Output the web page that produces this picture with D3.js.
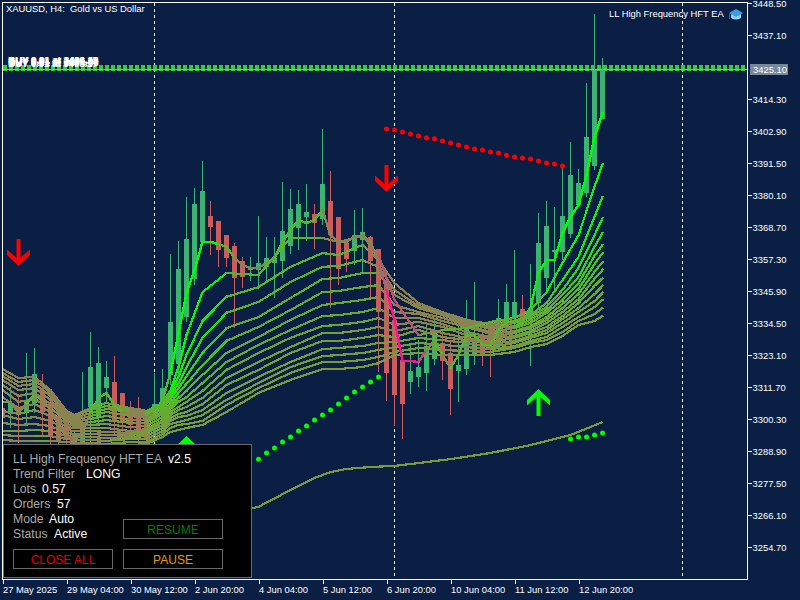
<!DOCTYPE html>
<html><head><meta charset="utf-8">
<script src="https://cdn.jsdelivr.net/npm/d3@7"></script>
<style>
html,body{margin:0;padding:0;background:#0b1f45;overflow:hidden}
svg{display:block}
text{font-family:"Liberation Sans",sans-serif}
</style></head><body><svg id="c" width="800" height="600"></svg>
<script>
// ---------- tick labels ----------
const priceTicks=[3448.5,3437.1,3414.3,3402.9,3391.5,3380.1,3368.7,3357.3,3345.9,3334.5,3323.1,3311.7,3300.3,3288.9,3277.5,3266.1,3254.7];
const timeTickBars=[0,8,16,24,32,40,48,56,64,72];
const timeTickLabels=["27 May 2025","29 May 04:00","30 May 12:00","2 Jun 20:00","4 Jun 04:00","5 Jun 12:00","6 Jun 20:00","10 Jun 04:00","11 Jun 12:00","12 Jun 20:00"];
const separatorBars=[19,49,85];
// ---------- candles, one entry per 4-hour bar ----------
const opens=[3304.2,3302.1,3304.2,3302.8,3306.0,3310.6,3306.4,3300.7,3298.2,3291.0,3291.0,3304.6,3300.7,3311.3,3313.5,3309.6,3302.8,3304.2,3299.9,3300.7,3301.7,3316.0,3319.9,3336.6,3350.2,3363.4,3372.6,3370.8,3365.8,3361.9,3356.6,3353.4,3353.4,3354.5,3355.9,3356.6,3361.9,3368.3,3372.3,3373.3,3371.6,3378.0,3372.3,3363.0,3360.2,3364.1,3365.1,3360.9,3349.8,3335.6,3321.3,3313.5,3315.3,3316.7,3321.7,3327.4,3323.8,3317.4,3318.1,3323.1,3329.2,3333.8,3326.7,3333.1,3336.3,3339.5,3336.6,3341.6,3350.5,3359.8,3359.8,3366.2,3376.5,3380.8,3390.4,3407.2];
const highs=[3307.1,3311.7,3309.2,3323.8,3325.6,3316.3,3310.6,3303.5,3299.9,3296.4,3317.0,3331.3,3325.9,3321.0,3322.7,3309.6,3306.7,3308.1,3301.7,3316.7,3318.1,3359.1,3363.7,3379.4,3382.6,3392.2,3378.0,3370.8,3365.8,3363.0,3358.0,3358.0,3372.6,3365.1,3365.1,3384.7,3382.2,3381.9,3384.0,3376.9,3403.6,3388.7,3372.3,3364.1,3374.8,3375.5,3365.5,3360.9,3349.8,3335.6,3321.3,3327.4,3328.4,3334.9,3335.6,3332.0,3328.4,3334.5,3342.7,3349.1,3332.0,3335.2,3343.0,3348.4,3360.5,3344.5,3355.5,3373.7,3378.0,3375.8,3390.1,3399.0,3389.4,3420.0,3444.6,3428.9];
const lows=[3296.4,3297.1,3291.8,3298.9,3302.4,3293.9,3291.0,3288.0,3287.0,3286.0,3288.0,3291.0,3298.2,3306.0,3294.6,3295.7,3292.8,3288.0,3291.0,3294.6,3298.2,3312.4,3316.0,3334.9,3348.0,3362.3,3358.7,3354.5,3354.5,3332.7,3347.0,3349.5,3346.6,3348.7,3343.4,3350.5,3359.1,3360.5,3363.7,3360.9,3369.4,3339.8,3348.0,3352.7,3355.2,3352.7,3343.4,3317.0,3306.7,3297.8,3293.2,3309.2,3311.7,3310.3,3319.5,3314.2,3301.7,3306.4,3316.0,3319.5,3319.2,3315.3,3324.9,3330.2,3333.8,3328.4,3319.2,3339.1,3346.3,3345.2,3356.9,3364.8,3376.5,3379.4,3389.0,3407.2];
const closes=[3300.7,3306.0,3302.1,3307.1,3316.3,3302.8,3293.9,3292.8,3293.5,3294.6,3298.2,3318.8,3320.2,3315.3,3299.9,3298.9,3298.2,3292.8,3292.8,3305.6,3311.3,3334.9,3353.7,3364.4,3376.9,3381.5,3368.7,3360.5,3357.7,3350.5,3350.9,3354.5,3355.9,3357.7,3357.7,3367.3,3375.1,3376.9,3374.0,3370.1,3384.0,3365.8,3353.7,3357.3,3365.8,3366.9,3356.6,3338.4,3316.7,3308.8,3305.6,3317.4,3318.8,3326.3,3331.6,3321.0,3311.0,3319.5,3334.5,3328.4,3323.1,3326.7,3336.3,3342.0,3342.0,3335.6,3339.8,3363.0,3369.0,3360.5,3372.6,3387.2,3384.4,3400.8,3424.6,3424.6];
// ---------- fastest moving average, one value per bar ----------
const fastMA=[3306.4,3306.4,3302.4,3306.0,3308.8,3307.1,3303.5,3298.2,3294.2,3292.8,3295.7,3302.8,3307.8,3309.6,3305.3,3302.8,3302.1,3301.7,3300.7,3302.8,3307.1,3316.7,3330.9,3345.2,3353.4,3363.4,3363.4,3362.6,3361.6,3357.7,3355.2,3354.1,3354.1,3355.9,3357.7,3363.4,3367.6,3371.2,3370.1,3371.2,3374.8,3365.8,3363.4,3363.4,3365.1,3365.8,3363.4,3356.2,3346.3,3335.6,3321.0,3321.0,3320.6,3324.9,3328.4,3323.1,3318.5,3323.1,3330.2,3330.2,3326.7,3326.7,3332.0,3334.9,3334.9,3334.5,3339.8,3352.3,3356.9,3356.9,3366.6,3372.3,3376.5,3387.2,3400.8,3409.3];
// ---------- slower moving averages, read at these bars ----------
const ribbonBars=[0,2,4,6,8,9,11,13,16,18,20,21,22,23,25,28,32,36,40,42,45,47,49,52,55,58,61,64,66,68,70,72,74,75];
const ribbonValuesAtBar=[
[3318.1,3316.7,3315.6,3314.2,3312.4,3310.6,3308.1,3303.2,3301.7,3298.9,3296.0,3294.6,3292.8,3290.7],
[3314.9,3313.5,3312.1,3310.6,3308.5,3306.4,3304.2,3302.1,3300.3,3298.2,3296.0,3294.2,3292.5,3290.7],
[3315.3,3314.2,3312.8,3311.3,3309.6,3307.4,3305.6,3303.5,3301.0,3298.5,3296.4,3294.2,3292.5,3290.7],
[3310.6,3309.6,3308.5,3307.1,3305.6,3304.2,3302.8,3301.4,3299.6,3297.8,3296.0,3294.2,3292.5,3290.7],
[3303.2,3302.4,3301.7,3301.0,3300.3,3299.6,3298.5,3297.4,3296.4,3295.3,3294.2,3293.2,3292.1,3290.7],
[3301.7,3301.4,3300.7,3299.9,3299.2,3298.5,3297.8,3297.1,3296.0,3295.0,3293.9,3292.8,3291.8,3290.7],
[3304.2,3303.5,3302.4,3301.4,3300.3,3299.2,3298.2,3297.1,3296.0,3295.0,3293.9,3292.8,3291.8,3290.7],
[3306.0,3304.9,3303.9,3302.8,3301.4,3299.9,3298.5,3297.1,3295.7,3294.6,3293.5,3292.5,3291.4,3290.7],
[3304.2,3303.5,3302.8,3301.4,3299.9,3298.9,3297.4,3296.0,3295.3,3294.6,3293.9,3293.2,3292.1,3291.0],
[3303.2,3302.4,3301.7,3300.7,3299.9,3298.9,3297.8,3296.7,3296.0,3295.3,3294.2,3293.2,3292.1,3291.4],
[3306.0,3305.3,3304.6,3303.9,3302.8,3302.1,3301.0,3299.9,3299.2,3298.2,3297.1,3296.0,3295.0,3293.9],
[3310.6,3309.6,3308.5,3307.4,3306.0,3304.9,3303.9,3302.8,3301.7,3300.7,3299.6,3298.5,3297.1,3295.7],
[3318.8,3315.3,3313.1,3311.3,3309.6,3307.8,3306.4,3304.6,3303.5,3302.1,3301.0,3299.2,3298.2,3296.4],
[3330.2,3323.1,3318.8,3315.6,3312.8,3310.3,3308.1,3306.4,3304.6,3302.8,3301.4,3299.9,3298.5,3297.1],
[3345.5,3335.2,3329.2,3323.8,3319.5,3316.0,3313.1,3310.3,3307.8,3305.6,3303.5,3301.7,3299.6,3298.2],
[3352.3,3343.8,3338.1,3332.7,3328.1,3323.8,3320.6,3317.8,3314.9,3312.4,3309.6,3307.1,3305.3,3302.8],
[3351.6,3347.3,3342.0,3336.6,3333.1,3329.5,3326.7,3323.8,3320.6,3317.8,3315.3,3313.1,3311.3,3309.6],
[3364.8,3354.5,3349.1,3343.4,3339.1,3335.6,3332.0,3329.2,3325.9,3323.8,3320.6,3318.8,3316.7,3314.2],
[3364.8,3359.4,3354.5,3350.2,3345.5,3340.9,3337.0,3333.4,3330.9,3328.1,3325.2,3322.7,3320.6,3318.1],
[3363.4,3358.7,3354.8,3350.5,3345.9,3341.6,3337.3,3333.8,3330.9,3328.1,3325.6,3323.1,3320.6,3318.1],
[3365.5,3362.3,3356.9,3352.3,3347.3,3342.7,3338.4,3334.9,3332.0,3329.2,3326.3,3323.8,3321.3,3318.8],
[3358.7,3356.9,3354.5,3352.3,3348.0,3343.8,3339.8,3336.3,3333.1,3330.2,3327.4,3324.9,3322.4,3320.2],
[3342.7,3348.7,3346.3,3344.5,3340.9,3338.4,3336.3,3333.8,3331.6,3329.5,3327.7,3325.9,3324.2,3323.1],
[3330.2,3341.6,3340.6,3339.8,3338.4,3337.7,3336.3,3334.9,3333.4,3332.0,3329.2,3327.4,3325.6,3323.8],
[3332.0,3338.4,3338.1,3337.3,3336.3,3335.2,3334.1,3333.1,3330.9,3329.5,3328.4,3326.7,3324.9,3323.1],
[3332.7,3335.6,3334.9,3334.5,3333.8,3333.1,3331.3,3330.2,3329.2,3328.4,3327.4,3325.9,3324.5,3323.1],
[3334.9,3334.1,3333.1,3332.4,3331.3,3330.6,3329.5,3328.8,3327.7,3327.0,3325.9,3325.2,3324.2,3323.1],
[3336.3,3335.2,3334.5,3333.4,3332.7,3331.6,3330.9,3329.9,3329.2,3328.1,3327.4,3326.3,3325.6,3324.2],
[3339.1,3337.3,3336.6,3335.6,3334.5,3333.4,3332.7,3331.6,3330.9,3329.9,3329.2,3328.1,3327.4,3325.9],
[3345.5,3341.6,3340.2,3339.1,3338.1,3336.6,3335.6,3334.5,3333.1,3332.0,3330.9,3329.5,3328.4,3327.0],
[3355.9,3349.8,3346.3,3344.5,3342.7,3341.3,3339.8,3338.4,3337.0,3335.9,3334.5,3333.1,3331.3,3329.9],
[3365.8,3358.0,3354.1,3350.9,3348.7,3346.6,3344.8,3343.0,3341.6,3339.8,3338.4,3336.6,3335.2,3333.8],
[3383.0,3372.3,3365.8,3361.6,3358.4,3355.5,3352.7,3350.2,3347.7,3344.8,3342.3,3340.2,3337.7,3335.2],
[3391.1,3379.4,3371.9,3366.6,3362.3,3359.4,3356.2,3353.4,3350.5,3347.7,3345.2,3342.7,3339.8,3337.0]];
// ---------- long moving average ----------
const longMABars=[30,32,36,39,41,43,46,49,52,56,61,66,71,75];
const longMAValues=[3267.9,3269.0,3275.0,3279.3,3281.4,3282.5,3283.2,3283.6,3284.6,3286.0,3288.2,3291.0,3294.6,3299.2];
// ---------- dotted signal lines ----------
const redDotStart=48;
const redDots=[3403.6,3403.3,3402.5,3401.8,3401.1,3400.4,3400.1,3399.3,3398.6,3397.9,3397.2,3396.5,3396.1,3395.4,3395.1,3394.3,3393.6,3393.3,3392.9,3392.2,3391.5,3391.1,3390.4];
const greenDotStart=32;
const greenDots=[3286.0,3288.2,3290.0,3292.1,3293.9,3296.0,3297.8,3299.9,3301.7,3303.5,3305.6,3307.8,3309.9,3311.7,3313.5,3315.3];
const lastDotStart=71;
const lastDots=[3293.2,3293.9,3293.9,3294.6,3295.3];
// ---------- arrows: bar and tip price ----------
const downArrowBars=[2,48];
const downArrowTips=[3355.2,3381.5];
const upArrowBars=[23,67];
const upArrowTips=[3293.9,3310.6];
// ---------- price lines and order labels ----------
const entryPrice=3425.4;
const bidPrice=3425.1;
const orderLabels=["BUY 0.01 at 3408.15","BUY 0.01 at 3406.98","BUY 0.01 at 3405.44","BUY 0.01 at 3404.86","BUY 0.01 at 3403.27","BUY 0.01 at 3401.63"];
const panelRows=[["LL High Frequency HFT EA","v2.5"],["Trend Filter","LONG"],["Lots","0.57"],["Orders","57"],["Mode","Auto"],["Status","Active"]];

const GREEN="#3cb371",RED="#cd5c5c";
const x=d3.scaleLinear().domain([0,93]).range([2.5,746.5]);
const y=d3.scaleLinear().domain([3448.5,3254.7]).range([3,547]);
const svg=d3.select("#c");
svg.append("rect").attr("width",800).attr("height",600).attr("fill","#0b1f45");
svg.append("defs").append("clipPath").attr("id","plot").append("rect").attr("x",3).attr("y",3).attr("width",744).attr("height",576);
const plot=svg.append("g").attr("clip-path","url(#plot)");
const px=v=>Math.round(x(v)-.5)+.5;
const py=v=>Math.round(y(v));

// separators
plot.selectAll(".sep").data(separatorBars).join("line").attr("x1",px).attr("x2",px).attr("y1",3).attr("y2",579)
 .attr("stroke","#fff").attr("stroke-dasharray","3,3").attr("shape-rendering","crispEdges");

// price lines
const ey=py(entryPrice);
plot.append("line").attr("x1",3).attr("x2",747).attr("y1",ey).attr("y2",ey).attr("stroke","#32cd32").attr("stroke-width",6).attr("stroke-dasharray","4,2").attr("shape-rendering","crispEdges");
const by=py(bidPrice)+.5;
plot.append("line").attr("x1",3).attr("x2",747).attr("y1",by).attr("y2",by).attr("stroke","#7fc48f").attr("shape-rendering","crispEdges");

// candles
const bars=d3.range(opens.length);
const isUp=i=>closes[i]>=opens[i];
plot.selectAll(".w").data(bars).join("line").attr("x1",px).attr("x2",px).attr("y1",i=>py(highs[i])).attr("y2",i=>py(lows[i]))
 .attr("stroke",i=>isUp(i)?GREEN:RED).attr("shape-rendering","crispEdges");
plot.selectAll(".b").data(bars).join("rect").attr("x",i=>px(i)-2.5).attr("width",5)
 .attr("y",i=>py(Math.max(opens[i],closes[i]))).attr("height",i=>Math.max(1,py(Math.min(opens[i],closes[i]))-py(Math.max(opens[i],closes[i]))))
 .attr("fill",i=>isUp(i)?GREEN:RED).attr("shape-rendering","crispEdges");

// ribbon colours follow the recent direction of each line ($ per bar)
const OLIVE=d3.rgb("#789a3a"),BROWN=d3.rgb("#8a8450");
function segColor(k,rate){
  const rank=1-k/15;
  if(rate>=0){
    const low=1.2+1.4*Math.pow(rank,3);
    const s=Math.min(1,Math.max(rate>.2?.3:0,(rate-low)/2));
    return d3.interpolateRgb(OLIVE,"#00ff00")(s*Math.pow(rank,1.6));
  }
  const s=Math.min(1,Math.max(0,(-rate-2.5)/3));
  return d3.interpolateRgb(BROWN,"#ff1493")(s*Math.pow(rank,12));
}
const lineGen=d3.line().x(d=>x(d[0])).y(d=>y(d[1]));
const ribbon=d3.transpose(ribbonValuesAtBar);
const gRib=plot.append("g").attr("fill","none").attr("shape-rendering","crispEdges");
for(let k=ribbon.length-1;k>=0;k--){
  const vals=ribbon[k];
  vals.forEach((v,j)=>{
    if(j===0) return;
    const cur=(v-vals[j-1])/(ribbonBars[j]-ribbonBars[j-1]);
    const prev=j>1?(vals[j-1]-vals[j-2])/(ribbonBars[j-1]-ribbonBars[j-2]):cur;
    gRib.append("path").attr("d",lineGen([[ribbonBars[j-1],vals[j-1]],[ribbonBars[j],v]]))
      .attr("stroke",segColor(k+1,(cur+prev)/2)).attr("stroke-width",2.2).attr("stroke-linecap","square");
  });
}
fastMA.forEach((v,i)=>{
  if(i===0) return;
  const from=Math.max(0,i-5), rate=(v-fastMA[from])/(i-from);
  gRib.append("path").attr("d",lineGen([[i-1,fastMA[i-1]],[i,v]])).attr("stroke",segColor(0,rate)).attr("stroke-width",2.4).attr("stroke-linecap","square");
});
// long MA
plot.append("path").attr("d",lineGen(longMABars.map((b,i)=>[b,longMAValues[i]]))).attr("fill","none").attr("stroke","#789a3a").attr("stroke-width",2.2).attr("shape-rendering","crispEdges");

// dots
function dots(vals,start,color){
  plot.append("g").selectAll("circle").data(vals).join("circle").attr("cx",(d,i)=>x(start+i)).attr("cy",d=>y(d)).attr("r",2.5).attr("fill",color);
}
dots(redDots,redDotStart,"#ff0000");
dots(greenDots,greenDotStart,"#00ff00");
dots(lastDots,lastDotStart,"#00ff00");

// arrows
function arrow(bar,tip,color,dir){
  const g=plot.append("g").attr("transform",`translate(${x(bar)},${y(tip)}) scale(1,${dir})`);
  g.append("path").attr("d","M-2,-26H2V-7L11.5,-15.5V-10L0,1L-11.5,-10V-15.5L-2,-7Z").attr("fill",color);
}
downArrowBars.forEach((b,i)=>arrow(b,downArrowTips[i],"#ff0000",1));
upArrowBars.forEach((b,i)=>arrow(b,upArrowTips[i],"#00ff00",-1));

// order labels, stacked on one another as the terminal stacks them
const ol=plot.append("g").attr("fill","#fff").attr("font-size",9.6).attr("font-weight","bold");
orderLabels.forEach((t,i)=>ol.append("text").attr("x",8+(i%2)*.6).attr("y",63+i%5).text(t));

// frame
svg.append("rect").attr("x",2.5).attr("y",2.5).attr("width",745).attr("height",576.5).attr("fill","none").attr("stroke","#fff").attr("shape-rendering","crispEdges");

// axes
const yAxis=d3.axisRight(y).tickValues(priceTicks).tickSize(4).tickPadding(1).tickFormat(d3.format(".2f"));
const gy=svg.append("g").attr("transform","translate(747.5,0)").call(yAxis);
const xAxis=d3.axisBottom(x).tickValues(timeTickBars).tickSize(4).tickFormat((d,i)=>timeTickLabels[i]);
const gx=svg.append("g").attr("transform","translate(0,579.5)").call(xAxis);
[gy,gx].forEach(g=>{g.select(".domain").remove();g.selectAll("line").attr("stroke","#fff").attr("shape-rendering","crispEdges");
 g.selectAll("text").attr("fill","#fff").attr("font-family","Liberation Sans").attr("font-size",9.4);});
gx.selectAll("text").attr("text-anchor","start").attr("dy",0).attr("y",13).attr("x",0);

// bid tag
const tagY=py(bidPrice);
svg.append("rect").attr("x",750).attr("y",tagY-5).attr("width",38).attr("height",11).attr("fill","#778899");
svg.append("text").attr("x",753).attr("y",tagY+4).attr("fill","#fff").attr("font-size",9.4).text(bidPrice.toFixed(2));

// headers
svg.append("text").attr("x",6).attr("y",12).attr("fill","#fff").attr("font-size",9.4).attr("xml:space","preserve").text("XAUUSD, H4:  Gold vs US Dollar");
svg.append("text").attr("x",609).attr("y",17).attr("fill","#fff").attr("font-size",9.4).text("LL High Frequency HFT EA");
const cap=svg.append("g").attr("transform","translate(736,14)");
cap.append("path").attr("d","M-5,0V4Q0,7 5,4V0Z").attr("fill","#8fd3f4");
cap.append("path").attr("d","M-7,-1L0,-5L7,-1L0,3Z").attr("fill","#3f9be0");
cap.append("rect").attr("x",-7).attr("y",0).attr("width",1).attr("height",5).attr("fill","#1f6fb8");

// panel
svg.append("rect").attr("x",3.5).attr("y",444.5).attr("width",248).attr("height",133).attr("fill","#000").attr("stroke","#696969").attr("shape-rendering","crispEdges");
const valueX=[168,86,42,57,49,54];
panelRows.forEach((r,i)=>{
  const yy=463+15*i;
  svg.append("text").attr("x",13).attr("y",yy).attr("fill","#a9a9a9").attr("font-family","DejaVu Sans").attr("font-size",12.2).text(r[0]);
  svg.append("text").attr("x",valueX[i]).attr("y",yy).attr("fill","#fff").attr("font-family","DejaVu Sans").attr("font-size",12.2).text(r[1]);
});
[["RESUME",123,519,"#008000"],["CLOSE ALL",13,549,"#e00000"],["PAUSE",123,549,"#e59a00"]].forEach(b=>{
  svg.append("rect").attr("x",b[1]+.5).attr("y",b[2]+.5).attr("width",99).attr("height",19).attr("fill","#000").attr("stroke","#696969").attr("shape-rendering","crispEdges");
  svg.append("text").attr("x",b[1]+50).attr("y",b[2]+14.5).attr("text-anchor","middle").attr("fill",b[3]).attr("font-family","DejaVu Sans").attr("font-size",12).text(b[0]);
});
</script></body></html>
